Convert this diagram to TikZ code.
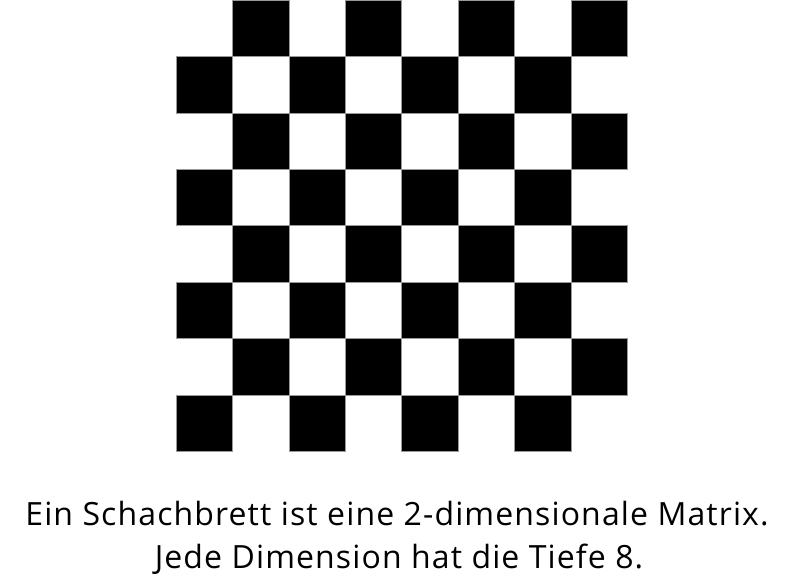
\documentclass[tikz,border=0pt]{standalone}
\usepackage{fontspec}
\setsansfont{Open Sans}
\newfontfamily\capfont[LetterSpace=3.5]{Open Sans}
\usetikzlibrary{positioning}
\tikzset{
  every picture/.style={font=\sffamily, line width=0.6pt},
  dark/.style={fill=black, draw=black!40, line width=0.8pt},
  caption/.style={font=\capfont\fontsize{32}{43}\selectfont, anchor=base, inner sep=0pt},
}

\begin{document}
\begin{tikzpicture}[x=1pt, y=-1pt]
  \useasboundingbox[fill=white] (0,0) rectangle (800,586);
  % board: 8 x 8, black where row+col is odd
  \def\sq{56.45}
  \foreach \r in {0,...,7} {
    \foreach \c in {0,...,7} {
      \pgfmathtruncatemacro{\odd}{mod(\r+\c,2)}
      \ifnum\odd=1
        \draw[dark] ({176+\c*\sq},{\r*\sq}) rectangle ++(\sq,\sq);
      \fi
    }
  }
  % caption
  \node[caption] (capa) at (397,525) {Ein Schachbrett ist eine 2-dimensionale Matrix.};
  \node[caption] (capb) at (399,568) {Jede Dimension hat die Tiefe 8.};
\end{tikzpicture}
\end{document}
